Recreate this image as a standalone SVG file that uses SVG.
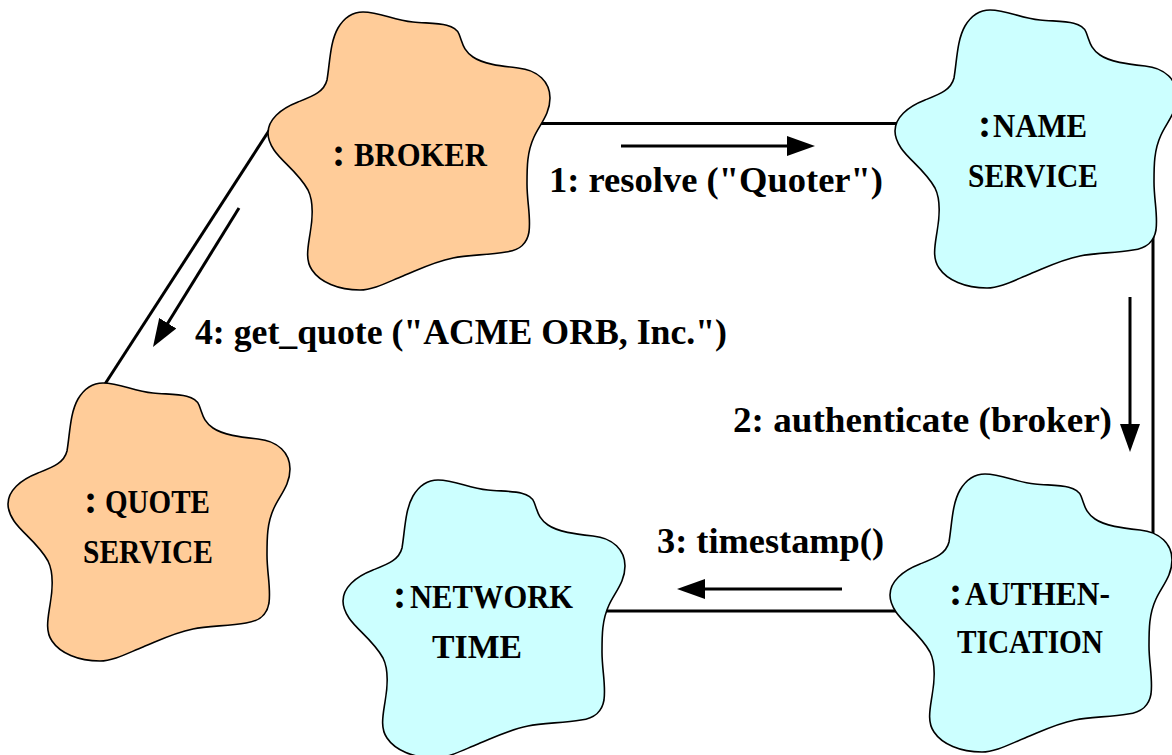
<svg xmlns="http://www.w3.org/2000/svg" width="1172" height="755" viewBox="0 0 1172 755">
<style>
.blob{stroke:#000;stroke-width:1.6}
.orange{fill:#FFCC99}
.cyan{fill:#CCFFFF}
.link{stroke:#000;stroke-width:3;fill:none}
.msg{stroke:#000;stroke-width:3;fill:none;marker-end:url(#ah)}
.nl{font-family:"Liberation Serif","Times New Roman",serif;font-weight:bold;font-size:33px;fill:#000}
.col{font-size:40px}
.lbl{font-family:"Liberation Serif","Times New Roman",serif;font-weight:bold;font-size:36px;fill:#000}
</style>
<defs>
<path id="blob" d="M0,121 C0,108 12,97 30,90 C45,84 56,80 59,68 C62,50 62,30 70,16 C76,6 84,0 95,0 C112,0 125,8 145,10 C165,12 186,10 191,22 C195,32 195,38 205,45 C215,52 232,54 250,56 C270,58 282,70 282,86 C282,102 272,112 266,125 C259,140 259,155 259,172 C259,190 263,205 261,220 C259,232 252,238 238,240 C220,243 200,243 185,246 C165,250 150,258 135,264 C120,270 105,278 92,278 C70,278 52,270 44,258 C37,248 40,235 42,222 C45,205 46,190 40,178 C30,160 14,150 6,138 C2,132 0,127 0,121 Z"/>
<marker id="ah" viewBox="0 0 28 20" refX="20" refY="10" markerWidth="28" markerHeight="20" markerUnits="userSpaceOnUse" orient="auto"><path d="M0,0 L28,10 L0,20 Z" fill="#000"/></marker>
</defs>
<g id="connectors">
<line class="link" x1="540" y1="123.5" x2="905" y2="123.5"/>
<line class="link" x1="1153" y1="228" x2="1153" y2="548"/>
<line class="link" x1="598" y1="611" x2="898" y2="611"/>
<line class="link" x1="272" y1="126" x2="105" y2="384"/>
<line class="msg" x1="621" y1="146" x2="807" y2="146"/>
<line class="msg" x1="1130" y1="297" x2="1130" y2="444"/>
<line class="msg" x1="842" y1="589" x2="685" y2="589"/>
<line class="msg" x1="239" y1="208" x2="157.2" y2="340.2"/>
<text class="lbl" x="549" y="192" textLength="334" lengthAdjust="spacingAndGlyphs">1: resolve ("Quoter")</text>
<text class="lbl" x="733" y="432" textLength="379" lengthAdjust="spacingAndGlyphs">2: authenticate (broker)</text>
<text class="lbl" x="657" y="553" textLength="227" lengthAdjust="spacingAndGlyphs">3: timestamp()</text>
<text class="lbl" x="195" y="344" textLength="532" lengthAdjust="spacingAndGlyphs">4: get_quote ("ACME ORB, Inc.")</text>
</g>
<g id="broker">
<use href="#blob" class="blob orange" transform="translate(268,12)"/>
<text class="nl" y="166"><tspan class="col" x="332">:</tspan><tspan x="354" textLength="133" lengthAdjust="spacingAndGlyphs">BROKER</tspan></text>
</g>
<g id="name-service">
<use href="#blob" class="blob cyan" transform="translate(895,10)"/>
<text class="nl" y="137"><tspan class="col" x="978">:</tspan><tspan x="993" textLength="94" lengthAdjust="spacingAndGlyphs">NAME</tspan></text>
<text class="nl" x="968" y="187" textLength="130" lengthAdjust="spacingAndGlyphs">SERVICE</text>
</g>
<g id="quote-service">
<use href="#blob" class="blob orange" transform="translate(8,383)"/>
<text class="nl" y="513"><tspan class="col" x="84">:</tspan><tspan x="105" textLength="105" lengthAdjust="spacingAndGlyphs">QUOTE</tspan></text>
<text class="nl" x="83" y="563" textLength="130" lengthAdjust="spacingAndGlyphs">SERVICE</text>
</g>
<g id="network-time">
<use href="#blob" class="blob cyan" transform="translate(343,480)"/>
<text class="nl" y="608"><tspan class="col" x="393">:</tspan><tspan x="410" textLength="163" lengthAdjust="spacingAndGlyphs">NETWORK</tspan></text>
<text class="nl" x="432" y="658" textLength="90" lengthAdjust="spacingAndGlyphs">TIME</text>
</g>
<g id="authentication">
<use href="#blob" class="blob cyan" transform="translate(890,474)"/>
<text class="nl" y="605"><tspan class="col" x="949">:</tspan><tspan x="965" textLength="145" lengthAdjust="spacingAndGlyphs">AUTHEN-</tspan></text>
<text class="nl" x="957" y="653" textLength="146" lengthAdjust="spacingAndGlyphs">TICATION</text>
</g>
</svg>
